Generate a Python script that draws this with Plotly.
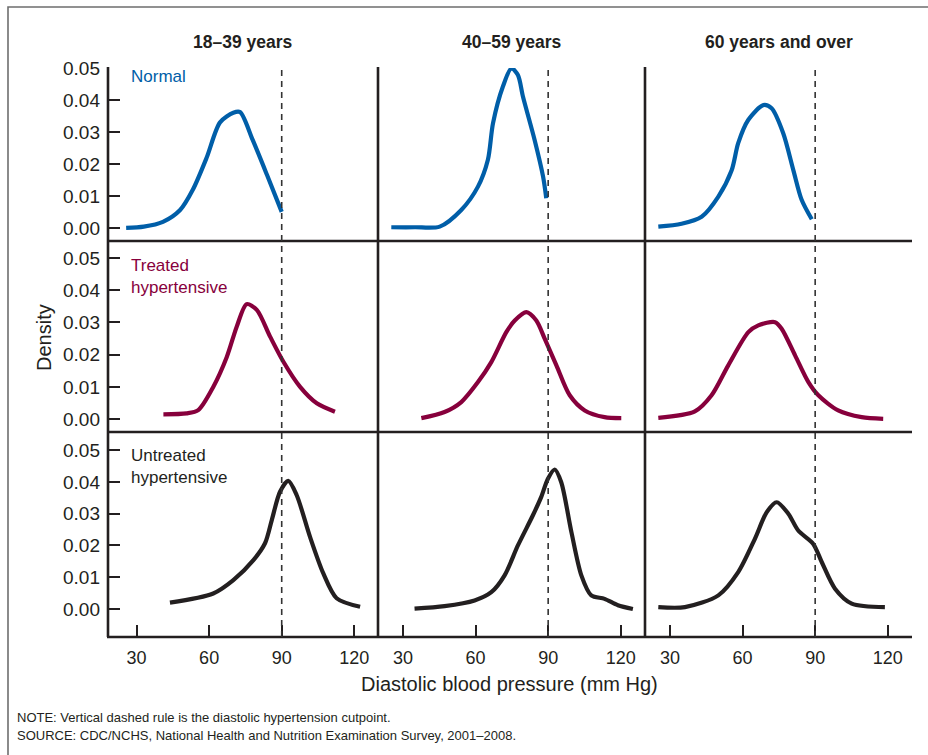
import plotly.graph_objects as go

W, H = 928, 755

# ---------------- data ----------------
age_groups = ["18–39 years", "40–59 years", "60 years and over"]
group_labels = ["Normal", "Treated<br>hypertensive", "Untreated<br>hypertensive"]
cutpoint = 90
y_tick_vals = [0.00, 0.01, 0.02, 0.03, 0.04, 0.05]
y_tick_text = ["0.00", "0.01", "0.02", "0.03", "0.04", "0.05"]
x_tick_vals = [30, 60, 90, 120]
x_tick_text = ["30", "60", "90", "120"]

# Normal
normal_1839_x = [25.7, 33, 40.9, 48, 53.3, 59, 64.5, 70, 72.8, 78, 83.9, 90]
normal_1839_y = [0.0000, 0.0004, 0.0019, 0.0056, 0.0120, 0.0220, 0.0330, 0.0360, 0.0362, 0.0275, 0.0166, 0.0050]
normal_4059_x = [25.2, 35.0, 45.2, 54.1, 61.0, 65.1, 67.2, 71.3, 74.8, 77.5, 79.6, 84.4, 87.9, 89.2]
normal_4059_y = [0.0002, 0.0002, 0.0004, 0.0056, 0.0129, 0.0213, 0.0327, 0.0442, 0.0499, 0.0478, 0.0410, 0.0275, 0.0160, 0.0093]
normal_60_x = [25.2, 34.8, 43.1, 50.0, 55.5, 58.2, 62.4, 68.6, 72.0, 76.8, 81.0, 84.4, 88.6]
normal_60_y = [0.0004, 0.0013, 0.0035, 0.0098, 0.0180, 0.0265, 0.0338, 0.0384, 0.0374, 0.0296, 0.0180, 0.0088, 0.0027]

# Treated hypertensive
treated_1839_x = [41.1, 50.7, 55.5, 61.7, 67.3, 71.4, 75.5, 79.7, 85.2, 90.7, 97.6, 104.5, 112.0]
treated_1839_y = [0.0015, 0.0018, 0.0028, 0.0100, 0.0193, 0.0287, 0.0357, 0.0339, 0.0256, 0.0178, 0.0100, 0.0049, 0.0023]
treated_4059_x = [37.6, 47.2, 54.1, 61.0, 66.5, 72.7, 76.2, 81.0, 85.1, 88.6, 93.4, 98.9, 105.1, 113.3, 120.2]
treated_4059_y = [0.0003, 0.0022, 0.0053, 0.0115, 0.0177, 0.0270, 0.0306, 0.0332, 0.0306, 0.0249, 0.0167, 0.0074, 0.0027, 0.0006, 0.0003]
treated_60_x = [25.2, 40.3, 47.2, 54.1, 62.4, 66.5, 73.4, 76.2, 81.7, 87.2, 91.3, 99.5, 109.2, 118.1]
treated_60_y = [0.0004, 0.0024, 0.0074, 0.0167, 0.0270, 0.0291, 0.0301, 0.0280, 0.0198, 0.0115, 0.0074, 0.0027, 0.0006, 0.0001]

# Untreated hypertensive
untreated_1839_x = [43.8, 61.7, 70.0, 78.3, 83.1, 85.9, 89.3, 92.7, 96.2, 101.7, 107.2, 112.7, 122.4]
untreated_1839_y = [0.0020, 0.0049, 0.0091, 0.0154, 0.0207, 0.0280, 0.0369, 0.0403, 0.0358, 0.0227, 0.0112, 0.0034, 0.0007]
untreated_4059_x = [34.8, 47.2, 59.6, 66.5, 72.0, 77.5, 83.7, 87.1, 89.9, 92.7, 95.4, 99.6, 103.7, 107.8, 113.3, 118.8, 125.0]
untreated_4059_y = [0.0001, 0.0009, 0.0027, 0.0053, 0.0106, 0.0200, 0.0295, 0.0352, 0.0410, 0.0439, 0.0399, 0.0242, 0.0106, 0.0043, 0.0032, 0.0012, 0.0000]
untreated_60_x = [25.2, 36.2, 50.0, 58.2, 65.1, 70.0, 74.1, 78.9, 83.0, 89.2, 92.7, 98.2, 105.1, 118.8]
untreated_60_y = [0.0006, 0.0006, 0.0043, 0.0116, 0.0221, 0.0305, 0.0336, 0.0300, 0.0247, 0.0205, 0.0148, 0.0064, 0.0017, 0.0006]

series = [
    [(normal_1839_x, normal_1839_y), (normal_4059_x, normal_4059_y), (normal_60_x, normal_60_y)],
    [(treated_1839_x, treated_1839_y), (treated_4059_x, treated_4059_y), (treated_60_x, treated_60_y)],
    [(untreated_1839_x, untreated_1839_y), (untreated_4059_x, untreated_4059_y), (untreated_60_x, untreated_60_y)],
]

# ---------------- styling / layout ----------------
row_colors = ["#005EA8", "#87003C", "#231F20"]
ink = "#231F20"
FONT = "Liberation Sans, Arial, Helvetica, sans-serif"

col_px = [(108, 378), (378, 645), (645, 912)]          # left/right pixel edges
row_px = [(68, 241), (241, 432), (432, 637)]           # top/bottom pixel edges
x_ranges = [[18.2, 129.8], [19.7, 130.0], [19.7, 130.0]]
y_ranges = [[-0.0041, 0.05], [-0.0040, 0.0553], [-0.0088, 0.0557]]

def px_x(p):
    return p / W

def px_y(p):
    return 1 - p / H

fig = go.Figure()
layout = dict()
for r in range(3):
    for c in range(3):
        k = r * 3 + c + 1
        xs, ys = series[r][c]
        fig.add_trace(go.Scatter(
            x=xs, y=ys, mode="lines",
            line=dict(color=row_colors[r], width=4.2, shape="spline", smoothing=0.8),
            xaxis=f"x{k}", yaxis=f"y{k}", showlegend=False, hoverinfo="skip",
        ))
        xa = dict(domain=[px_x(col_px[c][0]), px_x(col_px[c][1])], range=x_ranges[c],
                  anchor=f"y{k}", showgrid=False, zeroline=False, showline=False,
                  fixedrange=True, automargin=False)
        ya = dict(domain=[px_y(row_px[r][1]), px_y(row_px[r][0])], range=y_ranges[r],
                  anchor=f"x{k}", showgrid=False, zeroline=False, showline=False,
                  fixedrange=True, automargin=False)
        if r == 2:
            xa.update(ticks="inside", ticklen=12, tickwidth=2.4, tickcolor=ink,
                      tickvals=x_tick_vals, ticktext=x_tick_text, showticklabels=True,
                      ticklabelstandoff=8,
                      tickfont=dict(family=FONT, size=18, color=ink))
        else:
            xa.update(showticklabels=False, ticks="")
        if c == 0:
            ya.update(ticks="inside", ticklen=12, tickwidth=2.4, tickcolor=ink,
                      tickvals=y_tick_vals, ticktext=y_tick_text, showticklabels=True,
                      ticklabelstandoff=7,
                      tickfont=dict(family=FONT, size=19, color=ink))
        else:
            ya.update(showticklabels=False, ticks="")
        layout[f"xaxis{k}"] = xa
        layout[f"yaxis{k}"] = ya

shapes = []
# outer gray frame
shapes.append(dict(type="rect", xref="paper", yref="paper",
                   x0=px_x(8), x1=1.05, y0=-0.05, y1=px_y(7),
                   line=dict(color="#6E6E6E", width=1.6), fillcolor="rgba(0,0,0,0)"))
# panel frame lines
lw = 2.6
shapes.append(dict(type="line", xref="paper", yref="paper", x0=px_x(108), x1=px_x(108),
                   y0=px_y(637), y1=px_y(67), line=dict(color=ink, width=lw)))
for xp in (378, 645):
    shapes.append(dict(type="line", xref="paper", yref="paper", x0=px_x(xp), x1=px_x(xp),
                       y0=px_y(637), y1=px_y(67), line=dict(color=ink, width=lw)))
for yp in (241, 432, 637):
    shapes.append(dict(type="line", xref="paper", yref="paper", x0=px_x(107), x1=px_x(912),
                       y0=px_y(yp), y1=px_y(yp), line=dict(color=ink, width=lw)))
# cutpoint dashed lines
for c in range(3):
    k = 6 + c + 1
    shapes.append(dict(type="line", xref=f"x{k}", yref="paper", x0=cutpoint, x1=cutpoint,
                       y0=px_y(637), y1=px_y(67),
                       line=dict(color="#333333", width=1.6, dash="6px,5px")))

annotations = []
for c in range(3):
    annotations.append(dict(text=f"<b>{age_groups[c]}</b>", xref="paper", yref="paper",
                            x=px_x((col_px[c][0] + col_px[c][1]) / 2), y=px_y(42),
                            xanchor="center", yanchor="middle", showarrow=False,
                            font=dict(family=FONT, size=17.5, color=ink)))
label_y = [76, 276, 466]
for r in range(3):
    annotations.append(dict(text=group_labels[r], xref="paper", yref="paper",
                            x=px_x(129), y=px_y(label_y[r]), xanchor="left", yanchor="middle",
                            align="left", showarrow=False,
                            font=dict(family=FONT, size=17, color=row_colors[r])))
annotations.append(dict(text="Density", xref="paper", yref="paper", x=px_x(44), y=px_y(338),
                        textangle=-90, xanchor="center", yanchor="middle", showarrow=False,
                        font=dict(family=FONT, size=20, color=ink)))
annotations.append(dict(text="Diastolic blood pressure (mm Hg)", xref="paper", yref="paper",
                        x=px_x(510), y=px_y(684), xanchor="center", yanchor="middle",
                        showarrow=False, font=dict(family=FONT, size=20, color=ink)))
annotations.append(dict(text="NOTE: Vertical dashed rule is the diastolic hypertension cutpoint.",
                        xref="paper", yref="paper", x=px_x(15), y=px_y(717), xanchor="left",
                        yanchor="middle", showarrow=False,
                        font=dict(family=FONT, size=13, color=ink)))
annotations.append(dict(text="SOURCE: CDC/NCHS, National Health and Nutrition Examination Survey, 2001–2008.",
                        xref="paper", yref="paper", x=px_x(15), y=px_y(735), xanchor="left",
                        yanchor="middle", showarrow=False,
                        font=dict(family=FONT, size=13, color=ink)))

fig.update_layout(
    template="none",
    width=W, height=H, margin=dict(l=0, r=0, t=0, b=0, pad=0, autoexpand=False),
    paper_bgcolor="white", plot_bgcolor="rgba(0,0,0,0)",
    shapes=shapes, annotations=annotations, showlegend=False,
    **layout,
)
fig.write_html("out.html", config={"displayModeBar": False})
